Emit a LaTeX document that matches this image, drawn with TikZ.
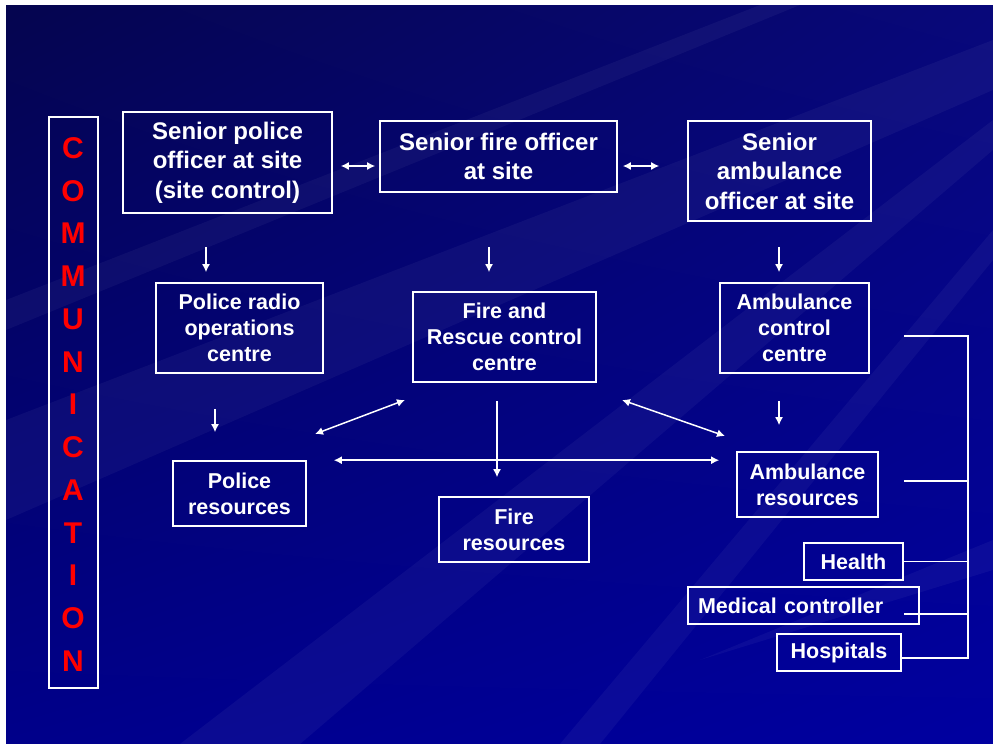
\documentclass[tikz,border=0pt]{standalone}
\usepackage{fontspec}
\setmainfont{Liberation Sans}
\usetikzlibrary{arrows.meta,calc,shadings}
\definecolor{deepnavy}{HTML}{05054F}
\definecolor{midnavy}{HTML}{08087A}
\definecolor{slideblue}{HTML}{00008A}
\definecolor{brightblue}{HTML}{0000A0}
\definecolor{commred}{HTML}{FF0000}
\tikzset{
  box/.style = {draw=white, line width=1.6pt, text=white, align=center,
    inner sep=0pt, font=\bfseries\fontsize{21.5}{26}\selectfont},
  bigbox/.style = {box, font=\bfseries\fontsize{24}{29.5}\selectfont},
  link/.style = {draw=white, line width=1.5pt},
  arr/.style = {link, -{Latex[length=8pt,width=8pt]}},
  dbl/.style = {link, {Latex[length=8pt,width=8pt]}-{Latex[length=8pt,width=8pt]}},
  ray/.style = {fill=white, opacity=0.045}
}

\begin{document}
\begin{tikzpicture}[x=1pt,y=-1pt]
  \useasboundingbox (0,0) rectangle (993,744);
  % background
  \fill[white] (0,0) rectangle (993,744);
  \shade[upper left=deepnavy, upper right=midnavy, lower left=slideblue, lower right=brightblue]
    (6,5) rectangle (993,744);
  \begin{scope}
    \clip (6,5) rectangle (993,744);
    \fill[ray] (993,40) -- (993,90) -- (6,520) -- (6,420) -- cycle;
    \fill[ray] (993,120) -- (993,150) -- (300,744) -- (180,744) -- cycle;
    \fill[ray] (760,5) -- (800,5) -- (6,330) -- (6,300) -- cycle;
    \fill[ray] (993,230) -- (993,260) -- (600,744) -- (560,744) -- cycle;
    \fill[ray] (993,540) -- (993,570) -- (700,660) -- cycle;
  \end{scope}

  % communication bar
  \node[draw=white, line width=1.6pt, minimum width=49pt, minimum height=571pt, inner sep=0pt]
    (comm) at (73.5,402.5) {};
  \foreach \L [count=\i from 0] in {C,O,M,M,U,N,I,C,A,T,I,O,N}
    \node[text=commred, font=\bfseries\fontsize{30}{30}\selectfont, inner sep=0pt]
      (comm\i) at (73,148+42.75*\i) {\L};

  % senior officers
  \node[bigbox, minimum width=209pt, minimum height=101pt] (police) at (227.5,162.5)
    {Senior police\\officer at site\\(site control)};
  \node[bigbox, minimum width=237pt, minimum height=71pt] (fire) at (498.5,156.5)
    {Senior fire officer\\at site};
  \node[bigbox, minimum width=183pt, minimum height=100pt] (amb) at (779.5,171)
    {Senior\\ambulance\\officer at site};

  % control centres
  \node[box, minimum width=167pt, minimum height=90pt] (radio) at (239.5,328)
    {Police radio\\operations\\centre};
  \node[box, minimum width=183pt, minimum height=90pt] (frc) at (504.5,337)
    {Fire and\\Rescue control\\centre};
  \node[box, minimum width=149pt, minimum height=90pt] (acc) at (794.5,328)
    {Ambulance\\control\\centre};

  % resources
  \node[box, minimum width=133pt, minimum height=65pt] (pres) at (239.5,493.5)
    {Police\\resources};
  \node[box, minimum width=150pt, minimum height=65pt] (fres) at (514,529.5)
    {Fire\\resources};
  \node[box, minimum width=141pt, minimum height=65pt] (ares) at (807.5,484.5)
    {Ambulance\\resources};

  % others
  \node[box, minimum width=99pt, minimum height=37pt] (health) at (853.5,561.5) {Health};
  \node[box, text width=211pt, inner xsep=10pt, align=left, minimum height=37pt]
    (medctl) at (803.5,605.5) {Medical controller};
  \node[box, minimum width=124pt, minimum height=37pt] (hosp) at (839,652.5) {Hospitals};

  % guide coordinates
  \coordinate (row1) at (0,166);
  \coordinate (colp) at (206,0);
  \coordinate (colf) at (489,0);
  \coordinate (cola) at (779,0);
  \coordinate (colr) at (215,0);
  \coordinate (brk) at (968,0);

  % top row links
  \draw[dbl, shorten <=8pt, shorten >=4pt] (police.east |- row1) -- (fire.west |- row1);
  \draw[dbl, shorten <=5pt, shorten >=28pt] (fire.east |- row1) -- (amb.west |- row1);

  % down arrows
  \draw[arr, shorten <=33pt, shorten >=10pt] (police.south -| colp) -- (radio.north -| colp);
  \draw[arr, shorten <=54pt, shorten >=19pt] (fire.south -| colf) -- (frc.north -| colf);
  \draw[arr, shorten <=25pt, shorten >=10pt] (amb.south -| cola) -- (acc.north -| cola);
  \draw[arr, shorten <=35pt, shorten >=28pt] (radio.south -| colr) -- (pres.north -| colr);
  \draw[arr, shorten <=27pt, shorten >=26pt] (acc.south -| cola) -- (ares.north -| cola);
  \draw[arr, shorten <=18pt, shorten >=19pt] ($(frc.south)+(-7.5,0)$) -- ($(fres.north)+(-17,0)$);

  % between resources and fire control
  \coordinate (pd) at (315,434);
  \coordinate (fd) at (405,400);
  \coordinate (fe) at (622,400);
  \coordinate (ad) at (725,436);
  \draw[dbl] (pd) -- (fd);
  \draw[dbl] (fe) -- (ad);
  \draw[dbl, shorten <=27pt, shorten >=17pt] (pres.north east) -- (ares.west |- pres.north);

  % bracket
  \coordinate (ta) at ([xshift=34pt,yshift=-8pt]acc.east);
  \coordinate (tr) at ([xshift=25pt,yshift=3.5pt]ares.east);
  \coordinate (tm) at ([xshift=-16pt,yshift=-8.5pt]medctl.east);
  \coordinate (th) at ([yshift=-5.5pt]hosp.east);
  \draw[link] (ta) -| (brk |- th) -- (th);
  \draw[link] (tr) -- (tr -| brk);
  \draw[link] (health.east) -- (health.east -| brk);
  \draw[link] (tm) -- (tm -| brk);
\end{tikzpicture}
\end{document}
